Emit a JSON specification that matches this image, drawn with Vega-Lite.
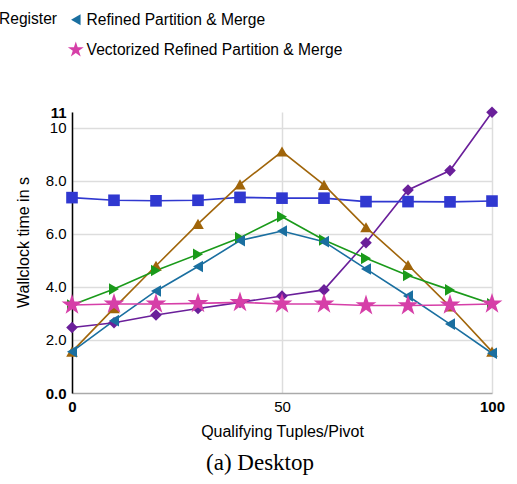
{
  "$schema": "https://vega.github.io/schema/vega-lite/v6.json",
  "width": 420,
  "height": 281,
  "autosize": {"type": "none"},
  "padding": {"left": 72, "top": 112, "right": 25, "bottom": 91},
  "background": "white",
  "title": {"text": "(a) Desktop", "orient": "bottom", "font": "Liberation Serif", "fontSize": 23, "fontWeight": "normal", "color": "black", "offset": 13, "dx": -22},
  "config": {
    "view": {"stroke": null},
    "font": "Liberation Sans",
    "axis": {"labelFont": "Liberation Sans", "titleFont": "Liberation Sans", "labelFontSize": 15, "titleFontSize": 16, "titleFontWeight": "normal", "labelColor": "black", "titleColor": "black", "gridColor": "#dddddd", "gridWidth": 1.5, "ticks": false}
  },
  "data": {"values": [
    {"x": 0, "y": 2.47, "s": "Branching"},
    {"x": 10, "y": 2.65, "s": "Branching"},
    {"x": 20, "y": 2.94, "s": "Branching"},
    {"x": 30, "y": 3.19, "s": "Branching"},
    {"x": 40, "y": 3.42, "s": "Branching"},
    {"x": 50, "y": 3.66, "s": "Branching"},
    {"x": 60, "y": 3.89, "s": "Branching"},
    {"x": 70, "y": 5.67, "s": "Branching"},
    {"x": 80, "y": 7.66, "s": "Branching"},
    {"x": 90, "y": 8.39, "s": "Branching"},
    {"x": 100, "y": 10.59, "s": "Branching"},
    {"x": 0, "y": 7.37, "s": "Predication"},
    {"x": 10, "y": 7.27, "s": "Predication"},
    {"x": 20, "y": 7.25, "s": "Predication"},
    {"x": 30, "y": 7.27, "s": "Predication"},
    {"x": 40, "y": 7.38, "s": "Predication"},
    {"x": 50, "y": 7.35, "s": "Predication"},
    {"x": 60, "y": 7.35, "s": "Predication"},
    {"x": 70, "y": 7.22, "s": "Predication"},
    {"x": 80, "y": 7.22, "s": "Predication"},
    {"x": 90, "y": 7.21, "s": "Predication"},
    {"x": 100, "y": 7.24, "s": "Predication"},
    {"x": 0, "y": 1.56, "s": "Partition"},
    {"x": 10, "y": 3.2, "s": "Partition"},
    {"x": 20, "y": 4.8, "s": "Partition"},
    {"x": 30, "y": 6.38, "s": "Partition"},
    {"x": 40, "y": 7.87, "s": "Partition"},
    {"x": 50, "y": 9.11, "s": "Partition"},
    {"x": 60, "y": 7.85, "s": "Partition"},
    {"x": 70, "y": 6.25, "s": "Partition"},
    {"x": 80, "y": 4.83, "s": "Partition"},
    {"x": 90, "y": 3.26, "s": "Partition"},
    {"x": 100, "y": 1.56, "s": "Partition"},
    {"x": 0, "y": 3.32, "s": "Partition & Merge Register"},
    {"x": 10, "y": 3.92, "s": "Partition & Merge Register"},
    {"x": 20, "y": 4.62, "s": "Partition & Merge Register"},
    {"x": 30, "y": 5.23, "s": "Partition & Merge Register"},
    {"x": 40, "y": 5.86, "s": "Partition & Merge Register"},
    {"x": 50, "y": 6.65, "s": "Partition & Merge Register"},
    {"x": 60, "y": 5.77, "s": "Partition & Merge Register"},
    {"x": 70, "y": 5.08, "s": "Partition & Merge Register"},
    {"x": 80, "y": 4.43, "s": "Partition & Merge Register"},
    {"x": 90, "y": 3.89, "s": "Partition & Merge Register"},
    {"x": 100, "y": 3.36, "s": "Partition & Merge Register"},
    {"x": 0, "y": 1.56, "s": "Refined Partition & Merge"},
    {"x": 10, "y": 2.73, "s": "Refined Partition & Merge"},
    {"x": 20, "y": 3.85, "s": "Refined Partition & Merge"},
    {"x": 30, "y": 4.77, "s": "Refined Partition & Merge"},
    {"x": 40, "y": 5.75, "s": "Refined Partition & Merge"},
    {"x": 50, "y": 6.11, "s": "Refined Partition & Merge"},
    {"x": 60, "y": 5.71, "s": "Refined Partition & Merge"},
    {"x": 70, "y": 4.68, "s": "Refined Partition & Merge"},
    {"x": 80, "y": 3.66, "s": "Refined Partition & Merge"},
    {"x": 90, "y": 2.6, "s": "Refined Partition & Merge"},
    {"x": 100, "y": 1.5, "s": "Refined Partition & Merge"},
    {"x": 0, "y": 3.32, "s": "Vectorized Refined Partition & Merge"},
    {"x": 10, "y": 3.36, "s": "Vectorized Refined Partition & Merge"},
    {"x": 20, "y": 3.36, "s": "Vectorized Refined Partition & Merge"},
    {"x": 30, "y": 3.38, "s": "Vectorized Refined Partition & Merge"},
    {"x": 40, "y": 3.42, "s": "Vectorized Refined Partition & Merge"},
    {"x": 50, "y": 3.36, "s": "Vectorized Refined Partition & Merge"},
    {"x": 60, "y": 3.36, "s": "Vectorized Refined Partition & Merge"},
    {"x": 70, "y": 3.3, "s": "Vectorized Refined Partition & Merge"},
    {"x": 80, "y": 3.3, "s": "Vectorized Refined Partition & Merge"},
    {"x": 90, "y": 3.32, "s": "Vectorized Refined Partition & Merge"},
    {"x": 100, "y": 3.36, "s": "Vectorized Refined Partition & Merge"}
  ]},
  "encoding": {
    "x": {"field": "x", "type": "quantitative", "scale": {"domain": [0, 100], "nice": false},
      "axis": {"values": [0, 50, 100], "title": "Qualifying Tuples/Pivot", "titlePadding": 9, "labelPadding": 6, "labelFlush": false, "domainColor": "#aaaaaa", "domainWidth": 1.5, "labelFontWeight": {"condition": {"test": "datum.value == 0 || datum.value == 100", "value": "bold"}, "value": "normal"}}},
    "y": {"field": "y", "type": "quantitative", "scale": {"domain": [0, 10.6], "nice": false, "zero": true},
      "axis": {"values": [0, 2, 4, 6, 8, 10, 10.6], "title": "Wallclock time in s", "titlePadding": 14, "titleY": 130, "labelPadding": 6, "domainColor": "black", "domainWidth": 1.5,
        "labelExpr": "datum.value == 0 ? '0.0' : datum.value > 10.3 ? '11' : datum.value == 10 ? '10' : format(datum.value, '.1f')",
        "labelFontWeight": {"condition": {"test": "datum.value == 0 || datum.value > 10.3", "value": "bold"}, "value": "normal"},
        "gridOpacity": {"condition": {"test": "datum.value == 0 || datum.value > 10.3", "value": 0}, "value": 1}}},
    "color": {"field": "s", "type": "nominal",
      "scale": {"domain": ["Branching", "Predication", "Partition", "Partition & Merge Register", "Refined Partition & Merge", "Vectorized Refined Partition & Merge"],
        "range": ["#6a1f9a", "#3038d0", "#a0650a", "#1a9a1a", "#1a6fa0", "#d63fa8"]},
      "legend": {"values": ["Refined Partition & Merge", "Vectorized Refined Partition & Merge"], "title": "Register", "titleOrient": "left", "titleAnchor": "start", "titleBaseline": "top", "titleFontWeight": "normal", "titleFontSize": 15.6, "titleColor": "black", "titlePadding": 10, "labelFontSize": 15.6, "labelLimit": 400, "labelColor": "black", "labelFont": "Liberation Sans", "titleFont": "Liberation Sans", "direction": "vertical", "orient": "none", "legendX": -73, "legendY": -100, "rowPadding": 12, "symbolSize": 150, "symbolStrokeWidth": 0, "labelOffset": 3,
        "encode": {"symbols": {"update": {"size": {"signal": "datum.value == 'Vectorized Refined Partition & Merge' ? 280 : 120"}}}}}
    },
    "shape": {"field": "s", "type": "nominal",
      "scale": {"domain": ["Branching", "Predication", "Partition", "Partition & Merge Register", "Refined Partition & Merge", "Vectorized Refined Partition & Merge"],
        "range": ["diamond", "square", "triangle-up", "triangle-right", "triangle-left", "M0,-1L0.2245,-0.309L0.9511,-0.309L0.3633,0.118L0.5878,0.809L0,0.382L-0.5878,0.809L-0.3633,0.118L-0.9511,-0.309L-0.2245,-0.309Z"]}}
  },
  "layer": [
    {"mark": {"type": "line", "strokeWidth": 1.6}, "encoding": {"shape": null}},
    {"transform": [{"filter": "datum.s != 'Vectorized Refined Partition & Merge'"}],
      "mark": {"type": "point", "filled": true, "opacity": 1, "size": 135}},
    {"transform": [{"filter": "datum.s == 'Vectorized Refined Partition & Merge'"}],
      "mark": {"type": "point", "filled": true, "opacity": 1, "size": 480}}
  ]
}
